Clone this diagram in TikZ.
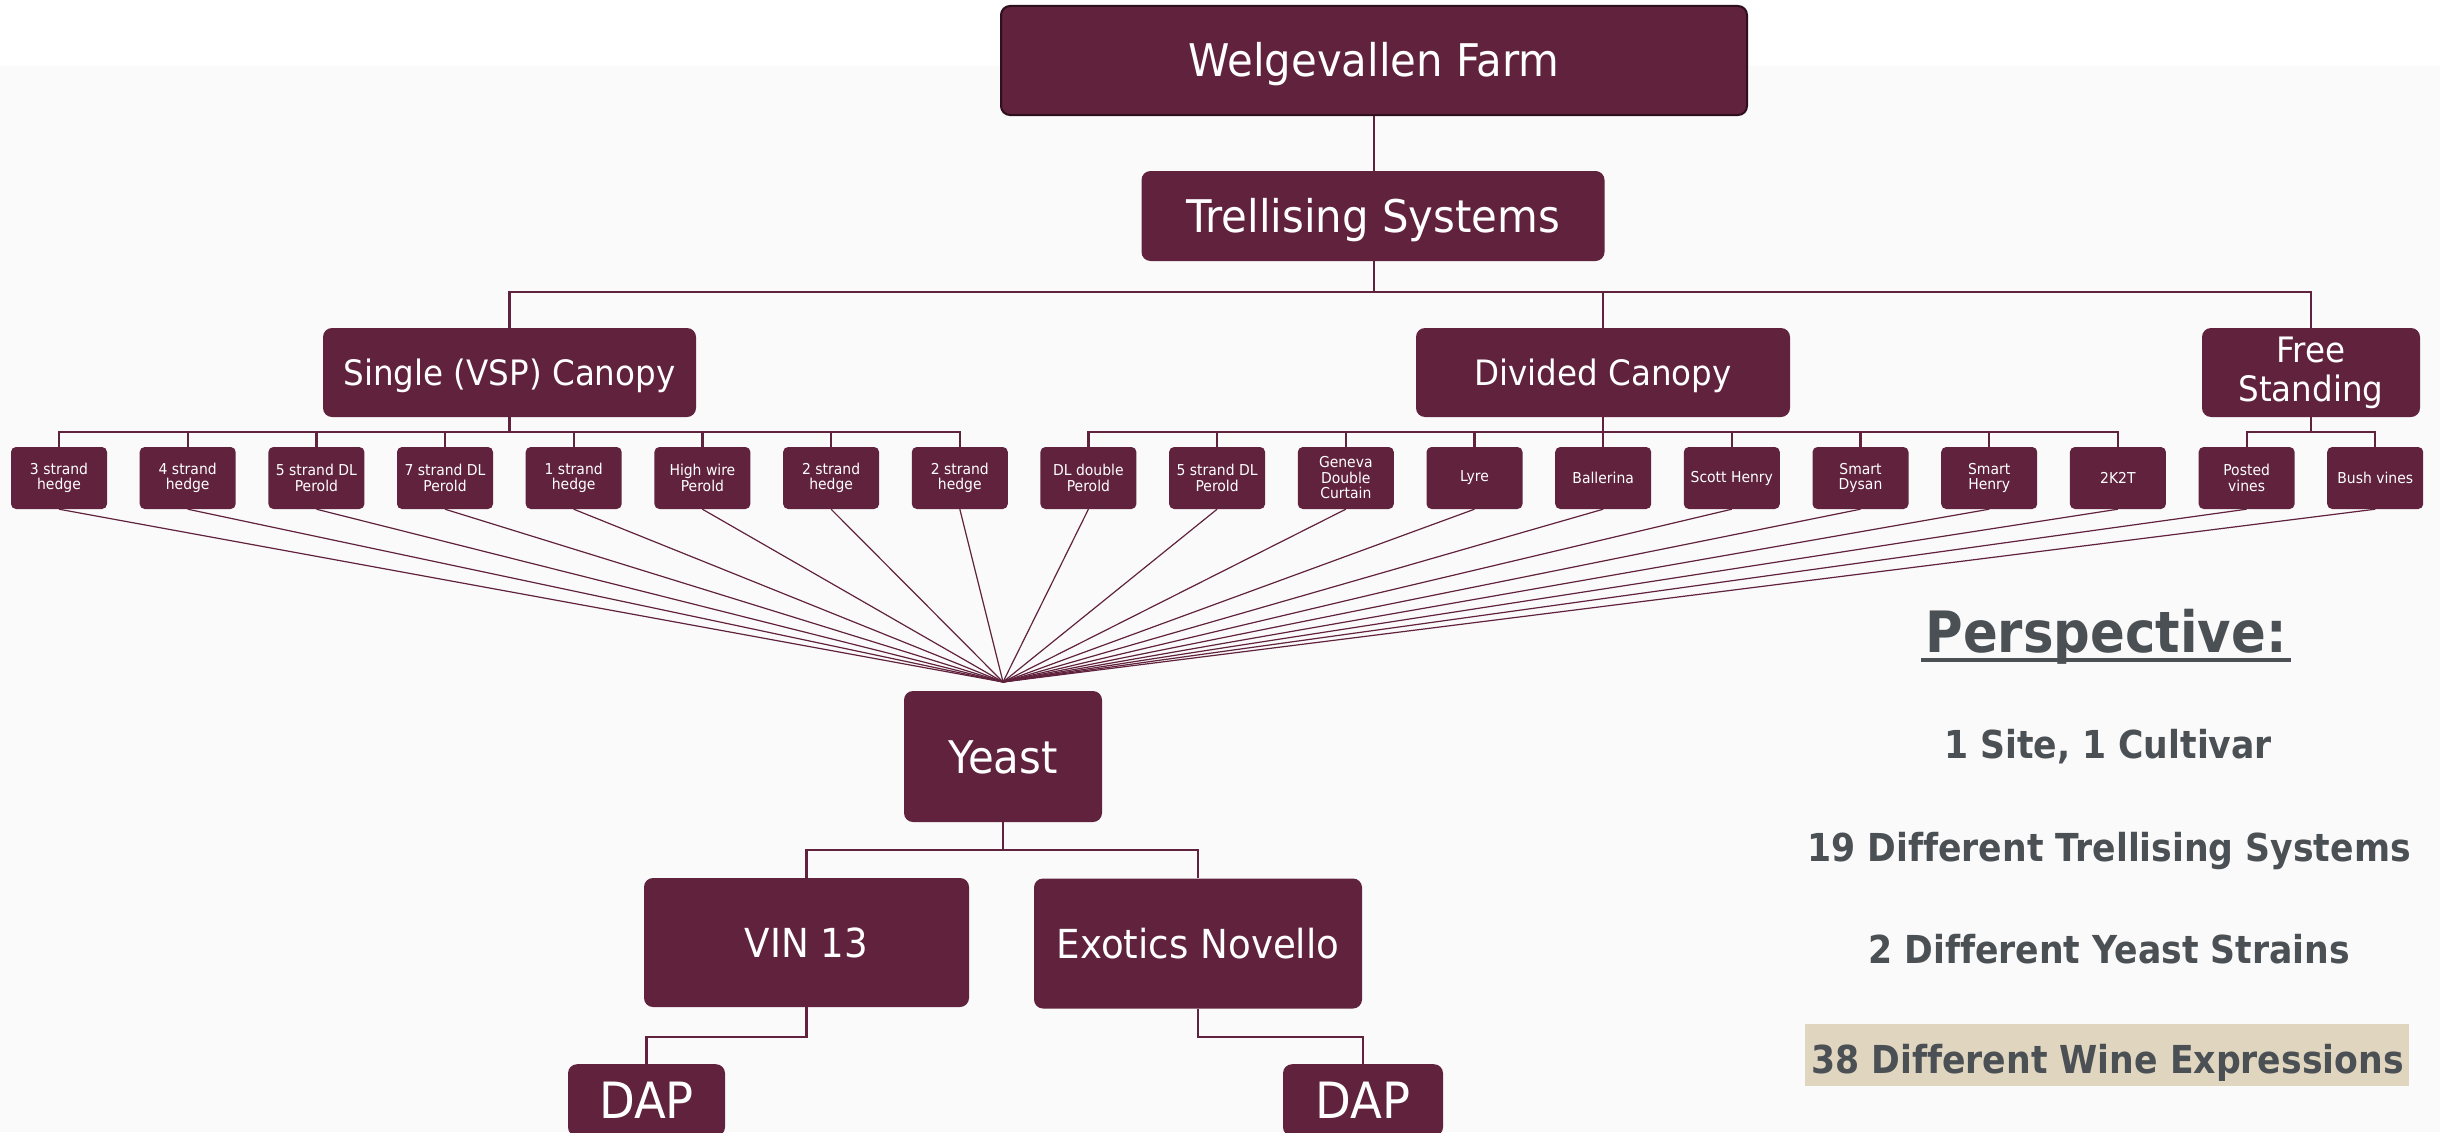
\documentclass[tikz,border=0pt]{standalone}
\usepackage{fontspec}
\setmainfont{DejaVu Sans}[FakeStretch=0.93]
\newfontfamily\persfont{DejaVu Sans}[FakeStretch=0.9,Ligatures=NoCommon]
\definecolor{wine}{HTML}{60223C}
\definecolor{winedark}{HTML}{2E0F1C}
\definecolor{pgray}{HTML}{4B5055}
\definecolor{hl}{HTML}{E0D5BF}
\definecolor{bgc}{HTML}{FBFAFB}
\begin{document}
\begin{tikzpicture}[x=1pt,y=-1pt,
  box/.style={rectangle, rounded corners=9pt, fill=wine, text=white, inner sep=0pt, align=center},
  big/.style={box, font=\fontsize{45}{50}\selectfont, text height=33pt, text depth=0pt},
  mid/.style={box, font=\fontsize{35}{39}\selectfont},
  yst/.style={box, font=\fontsize{40}{44}\selectfont, text height=29pt, text depth=0pt},
  dapbox/.style={box, font=\fontsize{50}{54}\selectfont, text height=36.5pt, text depth=0pt, minimum height=72pt, anchor=north},
  leaf/.style={box, rounded corners=5pt, minimum width=96pt, minimum height=62pt, font=\fontsize{15}{15.5}\selectfont},
  tree/.style={draw=wine, line width=2.2pt},
  fanline/.style={draw=wine, line width=1.2pt},
  pers/.style={text=pgray, font=\persfont\bfseries\fontsize{38.5}{42}\selectfont, anchor=base, inner sep=0pt}]
\useasboundingbox (0,0) rectangle (2440,1132);
\fill[white] (0,0) rectangle (2440,1132);
\fill[bgc] (0,66) rectangle (2440,1132);

% top levels
\node[big, minimum width=746pt, minimum height=109pt, draw=winedark, line width=2pt] (farm) at (1374,60.5) {Welgevallen Farm};
\node[big, minimum width=463pt, minimum height=90pt] (trellis) at (1373,216) {Trellising Systems};
\node[mid, minimum width=373pt, minimum height=89pt, text height=25.5pt, text depth=0pt] (single) at (509.5,372.5) {Single (VSP) Canopy};
\node[mid, minimum width=374pt, minimum height=89pt, text height=25.5pt, text depth=0pt] (divided) at (1603,372.5) {Divided Canopy};
\node[mid, minimum width=218pt, minimum height=89pt] (free) at (2311,372.5) {Free\\Standing};

% leaves
\node[leaf] (s1)  at (59.0,478)   {3 strand\\hedge};
\node[leaf] (s2)  at (187.7,478)  {4 strand\\hedge};
\node[leaf] (s3)  at (316.4,478)  {5 strand DL\\Perold};
\node[leaf] (s4)  at (445.0,478)  {7 strand DL\\Perold};
\node[leaf] (s5)  at (573.7,478)  {1 strand\\hedge};
\node[leaf] (s6)  at (702.4,478)  {High wire\\Perold};
\node[leaf] (s7)  at (831.1,478)  {2 strand\\hedge};
\node[leaf] (s8)  at (959.8,478)  {2 strand\\hedge};
\node[leaf] (s9)  at (1088.4,478) {DL double\\Perold};
\node[leaf] (s10) at (1217.1,478) {5 strand DL\\Perold};
\node[leaf] (s11) at (1345.8,478) {Geneva\\Double\\Curtain};
\node[leaf] (s12) at (1474.5,478) {Lyre};
\node[leaf] (s13) at (1603.2,478) {Ballerina};
\node[leaf] (s14) at (1731.8,478) {Scott Henry};
\node[leaf] (s15) at (1860.5,478) {Smart\\Dysan};
\node[leaf] (s16) at (1989.2,478) {Smart\\Henry};
\node[leaf] (s17) at (2117.9,478) {2K2T};
\node[leaf] (s18) at (2246.6,478) {Posted\\vines};
\node[leaf] (s19) at (2375.2,478) {Bush vines};

% yeast level
\node[big, minimum width=198pt, minimum height=131pt] (yeast) at (1003,756.5) {Yeast};
\node[yst, minimum width=325pt, minimum height=129pt] (vin) at (806.5,942.5) {VIN 13};
\node[yst, minimum width=328pt, minimum height=130pt] (exo) at (1198,943.5) {Exotics Novello};
\node[dapbox, minimum width=157pt] (dap1) at (646.5,1064) {DAP};
\node[dapbox, minimum width=160pt] (dap2) at (1363,1064) {DAP};

% bus coordinates
\coordinate (busT) at (0,292);
\coordinate (busL) at (0,432);
\coordinate (busY) at (0,850);
\coordinate (busD) at (0,1037);
\coordinate (fan) at (1003,682);

% connectors
\draw[tree] (farm.south) -- (farm.south |- trellis.north);
\draw[tree] (farm.south |- trellis.south) -- (farm.south |- busT);
\draw[tree] (single.north) -- (single.north |- busT) -- (free.north |- busT) -- (free.north);
\draw[tree] (divided.north) -- (divided.north |- busT);

\draw[tree] (single.south) -- (single.south |- busL);
\draw[tree] (s1.north) -- (s1.north |- busL) -- (s8.north |- busL) -- (s8.north);
\foreach \i in {2,...,7} \draw[tree] (s\i.north) -- (s\i.north |- busL);

\draw[tree] (divided.south) -- (divided.south |- busL);
\draw[tree] (s9.north) -- (s9.north |- busL) -- (s17.north |- busL) -- (s17.north);
\foreach \i in {10,...,16} \draw[tree] (s\i.north) -- (s\i.north |- busL);

\draw[tree] (free.south) -- (free.south |- busL);
\draw[tree] (s18.north) -- (s18.north |- busL) -- (s19.north |- busL) -- (s19.north);

\foreach \i in {1,...,19} \draw[fanline] (s\i.south) -- (fan);

\draw[tree] (yeast.south) -- (yeast.south |- busY);
\draw[tree] (vin.north) -- (vin.north |- busY) -- (exo.north |- busY) -- (exo.north);
\draw[tree] (vin.south) -- (vin.south |- busD) -- (dap1.north |- busD) -- (dap1.north);
\draw[tree] (exo.south) -- (exo.south |- busD) -- (dap2.north |- busD) -- (dap2.north);

% perspective panel
\node[pers, font=\persfont\bfseries\fontsize{57}{60}\selectfont] (ptitle) at (2106,652) {Perspective:};
\draw[pgray, line width=4pt] ([xshift=-4pt,yshift=-8pt]ptitle.base west) -- ([xshift=4pt,yshift=-8pt]ptitle.base east);
\node[pers] (p1) at (2108,758) {1 Site, 1 Cultivar};
\node[pers] (p2) at (2109,861) {19 Different Trellising Systems};
\node[pers] (p3) at (2109,963) {2 Different Yeast Strains};
\node[fill=hl, minimum width=604pt, minimum height=62pt, inner sep=0pt] (hlbox) at (2107,1055) {};
\node[pers] (p4) at (2107.5,1073) {38 Different Wine Expressions};
\end{tikzpicture}
\end{document}
